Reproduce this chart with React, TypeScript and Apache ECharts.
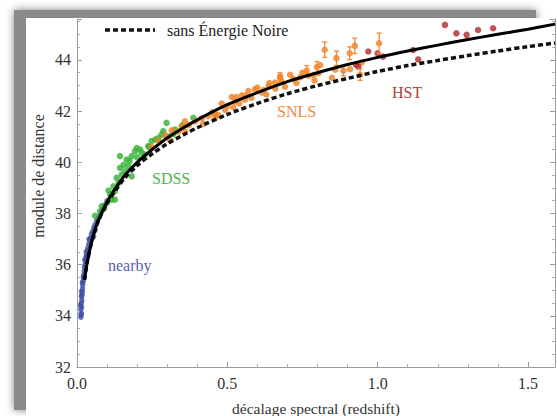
import React, { useEffect, useRef } from 'react';
import * as echarts from 'echarts';

// Tick labels
const xTickLabels = ['0.0', '0.5', '1.0', '1.5'];
const yTickLabels = ['32', '34', '36', '38', '40', '42', '44'];

// Model curves (redshift, distance modulus)
const zCurve = [0.025, 0.035, 0.05, 0.07, 0.1, 0.13, 0.16, 0.2, 0.25, 0.3, 0.35, 0.4, 0.5, 0.6, 0.7, 0.8, 0.9, 1.0, 1.1, 1.2, 1.3, 1.4, 1.5, 1.59];
const muWithDE = [35.4, 36.15, 36.95, 37.7, 38.45, 39.02, 39.5, 40.0, 40.5, 40.95, 41.32, 41.66, 42.25, 42.72, 43.15, 43.5, 43.82, 44.1, 44.35, 44.58, 44.8, 45.0, 45.2, 45.4];
const muNoDE = [35.4, 36.15, 36.93, 37.67, 38.4, 38.93, 39.4, 39.87, 40.33, 40.72, 41.05, 41.35, 41.87, 42.3, 42.68, 43.0, 43.28, 43.55, 43.78, 43.98, 44.17, 44.35, 44.52, 44.66];

// nearby supernovae
const nearbyZ = [0.013, 0.014, 0.013, 0.015, 0.014, 0.016, 0.015, 0.017, 0.018, 0.019, 0.02, 0.021, 0.022, 0.024, 0.025, 0.027, 0.028, 0.03, 0.032, 0.034, 0.036, 0.039, 0.042, 0.045, 0.048, 0.052, 0.056, 0.06, 0.065, 0.07, 0.075, 0.08, 0.086, 0.09, 0.095, 0.1, 0.018, 0.023, 0.026, 0.031, 0.04, 0.055, 0.06, 0.035, 0.012, 0.016, 0.014, 0.016];
const nearbyMu = [33.95, 34.1, 34.25, 34.35, 34.5, 34.6, 34.75, 34.9, 35.05, 35.2, 35.35, 35.5, 35.6, 35.75, 35.9, 36.0, 36.15, 36.3, 36.4, 36.55, 36.65, 36.8, 36.95, 37.05, 37.2, 37.3, 37.45, 37.55, 37.7, 37.8, 37.9, 38.05, 38.15, 38.3, 38.35, 38.5, 35.3, 35.5, 36.2, 36.5, 37.0, 37.1, 37.35, 36.3, 34.4, 34.8, 34.05, 34.95];

// SDSS
const sdssZ = [0.06, 0.077, 0.082, 0.099, 0.115, 0.11, 0.126, 0.121, 0.138, 0.132, 0.149, 0.16, 0.143, 0.171, 0.165, 0.182, 0.193, 0.199, 0.21, 0.215, 0.226, 0.237, 0.248, 0.26, 0.271, 0.282, 0.287, 0.298, 0.304, 0.326, 0.143, 0.387, 0.126, 0.182, 0.09, 0.105, 0.155, 0.175, 0.2, 0.24, 0.32, 0.35];
const sdssMu = [37.91, 38.08, 38.28, 38.41, 38.54, 38.74, 38.87, 39.06, 39.19, 39.39, 39.52, 39.65, 39.78, 39.85, 40.11, 40.24, 40.43, 40.56, 40.5, 40.37, 40.3, 40.63, 40.83, 40.89, 40.96, 41.09, 41.22, 41.54, 41.02, 41.28, 40.24, 41.74, 38.54, 39.45, 38.2, 38.9, 39.9, 40.05, 40.2, 40.6, 41.1, 41.45];

// SNLS
const snlsZ = [0.248, 0.271, 0.293, 0.315, 0.337, 0.348, 0.359, 0.371, 0.393, 0.415, 0.437, 0.45, 0.459, 0.47, 0.481, 0.493, 0.5, 0.515, 0.52, 0.526, 0.53, 0.548, 0.559, 0.56, 0.57, 0.58, 0.592, 0.6, 0.615, 0.62, 0.637, 0.64, 0.659, 0.66, 0.675, 0.676, 0.68, 0.692, 0.709, 0.72, 0.73, 0.742, 0.75, 0.764, 0.77, 0.786, 0.79, 0.798, 0.803, 0.809, 0.824, 0.848, 0.859, 0.863, 0.886, 0.907, 0.908, 0.924, 0.942, 0.947, 1.005, 0.31, 0.36, 0.42, 0.46, 0.54, 0.63];
const snlsMu = [40.6, 40.85, 41.05, 41.25, 41.2, 41.4, 41.6, 41.45, 41.6, 41.72, 41.8, 41.95, 41.9, 41.85, 42.3, 42.05, 42.2, 42.55, 42.15, 42.38, 42.55, 42.62, 42.45, 42.6, 42.78, 42.52, 42.85, 42.92, 42.72, 42.82, 42.98, 43.1, 43.12, 42.88, 43.32, 43.36, 43.18, 42.95, 43.42, 43.25, 43.1, 43.32, 43.5, 43.58, 43.38, 43.42, 43.2, 43.72, 43.48, 43.8, 44.4, 43.3, 43.62, 44.07, 43.58, 44.26, 43.64, 44.55, 43.42, 43.9, 44.65, 40.85, 41.2, 41.5, 41.75, 42.3, 42.65];
const snlsErrZ = [0.824, 0.863, 0.907, 0.924, 0.942, 1.005, 0.764, 0.798, 0.675, 0.886];
const snlsErrMu = [44.4, 44.07, 44.26, 44.55, 43.42, 44.65, 43.58, 43.72, 43.32, 43.58];
const snlsErr = [0.3, 0.28, 0.25, 0.3, 0.22, 0.4, 0.2, 0.22, 0.18, 0.2];

// HST
const hstZ = [0.928, 0.936, 0.969, 1.0, 1.018, 1.118, 1.135, 1.224, 1.262, 1.296, 1.334, 1.384];
const hstMu = [43.81, 43.74, 44.33, 44.26, 44.13, 44.39, 44.02, 45.37, 45.04, 44.98, 45.17, 45.24];

const pairs = (a: number[], b: number[]) => a.map((v, i) => [v, b[i]]);

const SERIF = 'Liberation Serif';

const errorBarSeries = (zs: number[], mus: number[], errs: number[], color: string, name: string) => ({
  type: 'custom',
  name,
  z: 4,
  data: zs.map((z, i) => [z, mus[i] - errs[i], mus[i] + errs[i]]),
  renderItem: (params: any, api: any) => {
    const x = api.value(0);
    const lo = api.coord([x, api.value(1)]);
    const hi = api.coord([x, api.value(2)]);
    const w = 2.5;
    const st = { stroke: color, lineWidth: 1.3 };
    return {
      type: 'group',
      children: [
        { type: 'line', shape: { x1: lo[0], y1: lo[1], x2: hi[0], y2: hi[1] }, style: st },
        { type: 'line', shape: { x1: hi[0] - w, y1: hi[1], x2: hi[0] + w, y2: hi[1] }, style: st },
        { type: 'line', shape: { x1: lo[0] - w, y1: lo[1], x2: lo[0] + w, y2: lo[1] }, style: st },
      ],
    };
  },
});

const isMultiple = (v: number, step: number) => Math.abs(v / step - Math.round(v / step)) < 1e-6;

export default function App() {
  const ref = useRef<HTMLDivElement>(null);
  useEffect(() => {
    const chart = echarts.init(ref.current!, null, { renderer: 'svg' });
    const axisColor = '#9c9c9c';
    const labelStyle = { color: '#333', fontFamily: SERIF, fontSize: 16 };
    chart.setOption({
      animation: false,
      backgroundColor: '#ffffff',
      textStyle: { fontFamily: SERIF },
      grid: { left: 77, top: 19, width: 478, height: 348, containLabel: false, outerBoundsMode: 'none' },
      xAxis: {
        type: 'value',
        min: 0,
        max: 1.59,
        interval: 0.5,
        name: 'décalage spectral (redshift)',
        nameLocation: 'middle',
        nameGap: 33,
        nameTextStyle: { color: '#333', fontFamily: SERIF, fontSize: 15.5 },
        axisLine: { show: true, onZero: false, lineStyle: { color: axisColor, width: 1 } },
        axisTick: { show: true, inside: true, length: 5, lineStyle: { color: axisColor } },
        minorTick: { show: true, splitNumber: 5, length: 3, lineStyle: { color: '#aaa' } },
        splitLine: { show: false },
        axisLabel: {
          ...labelStyle,
          margin: 8,
          formatter: (v: number) => (isMultiple(v, 0.5) ? xTickLabels[Math.round(v / 0.5)] ?? '' : ''),
        },
      },
      yAxis: [
        {
          type: 'value',
          min: 32,
          max: 45.6,
          interval: 2,
          axisLine: { show: true, onZero: false, lineStyle: { color: axisColor, width: 1 } },
          axisTick: { show: true, inside: true, length: 5, lineStyle: { color: axisColor } },
          minorTick: { show: true, splitNumber: 4, length: 3, lineStyle: { color: '#aaa' } },
          splitLine: { show: false },
          axisLabel: {
            ...labelStyle,
            margin: 6,
            formatter: (v: number) => (isMultiple(v - 32, 2) ? yTickLabels[Math.round((v - 32) / 2)] ?? '' : ''),
          },
        },
        {
          type: 'value',
          position: 'right',
          min: 32,
          max: 45.6,
          interval: 2,
          axisLine: { show: true, onZero: false, lineStyle: { color: axisColor, width: 1 } },
          axisTick: { show: true, inside: true, length: 5, lineStyle: { color: axisColor } },
          minorTick: { show: true, splitNumber: 4, length: 3, lineStyle: { color: '#aaa' } },
          splitLine: { show: false },
          axisLabel: { show: false },
        },
      ],
      graphic: [
        {
          type: 'rect',
          z: -100,
          shape: { x: 14, y: 10, width: 522, height: 400 },
          style: { fill: '#8a8a8a', shadowBlur: 8, shadowColor: 'rgba(0,0,0,0.5)' },
          silent: true,
        },
        {
          type: 'rect',
          z: -99,
          shape: { x: 26, y: 18, width: 560, height: 420 },
          style: { fill: '#ffffff' },
          silent: true,
        },
        {
          type: 'text',
          z: 100,
          x: 38,
          y: 176,
          rotation: Math.PI / 2,
          style: { text: 'module de distance', fill: '#333', font: '16px Liberation Serif', align: 'center', verticalAlign: 'middle' },
        },
        {
          type: 'line',
          z: 100,
          shape: { x1: 105, y1: 30, x2: 155, y2: 30 },
          style: { stroke: '#111', lineWidth: 3.5, lineDash: [5, 3] },
        },
        {
          type: 'text',
          z: 100,
          x: 167,
          y: 30,
          style: { text: 'sans Énergie Noire', fill: '#222', font: '16px Liberation Serif', verticalAlign: 'middle' },
        },
        {
          type: 'text', z: 100, x: 108, y: 265,
          style: { text: 'nearby', fill: '#5a60b2', font: '16px Liberation Serif', verticalAlign: 'middle' },
        },
        {
          type: 'text', z: 100, x: 152, y: 178,
          style: { text: 'SDSS', fill: '#4cb64c', font: '16px Liberation Serif', verticalAlign: 'middle' },
        },
        {
          type: 'text', z: 100, x: 277, y: 111,
          style: { text: 'SNLS', fill: '#f08a3a', font: '16px Liberation Serif', verticalAlign: 'middle' },
        },
        {
          type: 'text', z: 100, x: 392, y: 92,
          style: { text: 'HST', fill: '#b3402f', font: '16px Liberation Serif', verticalAlign: 'middle' },
        },
      ],
      series: [
        {
          type: 'scatter', name: 'nearby', z: 3, symbolSize: 5.5,
          itemStyle: { color: '#3f4ea6' },
          data: pairs(nearbyZ, nearbyMu),
        },
        {
          type: 'scatter', name: 'SDSS', z: 3, symbolSize: 6.5,
          itemStyle: { color: '#33b233' },
          data: pairs(sdssZ, sdssMu),
        },
        errorBarSeries(snlsErrZ, snlsErrMu, snlsErr, '#f08a3a', 'SNLS err'),
        {
          type: 'scatter', name: 'SNLS', z: 3, symbolSize: 6.5,
          itemStyle: { color: '#f07f22' },
          data: pairs(snlsZ, snlsMu),
        },
        {
          type: 'scatter', name: 'HST', z: 3, symbolSize: 6.5,
          itemStyle: { color: '#b0282a' },
          data: pairs(hstZ, hstMu),
        },
        {
          type: 'line', name: 'sans Énergie Noire', z: 5, smooth: 0.3, showSymbol: false,
          lineStyle: { color: '#111', width: 3.5, type: [5, 3] },
          data: pairs(zCurve, muNoDE),
        },
        {
          type: 'line', name: 'avec Énergie Noire', z: 6, smooth: 0.3, showSymbol: false,
          lineStyle: { color: '#000', width: 3 },
          data: pairs(zCurve, muWithDE),
        },
      ],
    });
    return () => chart.dispose();
  }, []);
  return <div ref={ref} style={{ position: 'fixed', left: 0, top: 0, width: 557, height: 416 }} />;
}
